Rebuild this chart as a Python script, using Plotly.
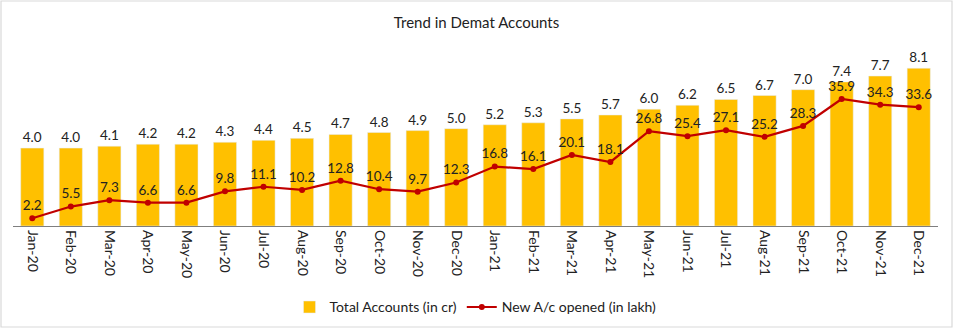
import plotly.graph_objects as go

months = ["Jan-20","Feb-20","Mar-20","Apr-20","May-20","Jun-20","Jul-20","Aug-20","Sep-20","Oct-20","Nov-20","Dec-20",
          "Jan-21","Feb-21","Mar-21","Apr-21","May-21","Jun-21","Jul-21","Aug-21","Sep-21","Oct-21","Nov-21","Dec-21"]
total_accounts = [4.0,4.0,4.1,4.2,4.2,4.3,4.4,4.5,4.7,4.8,4.9,5.0,
                  5.2,5.3,5.5,5.7,6.0,6.2,6.5,6.7,7.0,7.4,7.7,8.1]
new_accounts = [2.2,5.5,7.3,6.6,6.6,9.8,11.1,10.2,12.8,10.4,9.7,12.3,
                16.8,16.1,20.1,18.1,26.8,25.4,27.1,25.2,28.3,35.9,34.3,33.6]

FONT = "Lato, Calibri, Carlito, sans-serif"

fig = go.Figure()
fig.add_trace(go.Bar(
    x=months, y=total_accounts, name="Total Accounts (in cr)",
    marker=dict(color="#FFC000"), width=0.6,
    text=[f"{v:.1f}" for v in total_accounts], textposition="outside",
    textfont=dict(size=13.5, color="#222222", family=FONT), cliponaxis=False,
))
fig.add_trace(go.Scatter(
    x=months, y=new_accounts, name="New A/c opened (in lakh)", yaxis="y2",
    mode="lines+markers+text", line=dict(color="#C00000", width=2.2),
    marker=dict(color="#C00000", size=6),
    text=[f"{v:.1f}" for v in new_accounts], textposition="top center",
    textfont=dict(size=13.5, color="#222222", family=FONT), cliponaxis=False,
))

fig.update_layout(
    width=953, height=329,
    margin=dict(l=13, r=15, t=41, b=103, autoexpand=False),
    paper_bgcolor="white", plot_bgcolor="white",
    font=dict(family=FONT, size=14, color="#222222"),
    title=dict(text="Trend in Demat Accounts", x=0.5, xanchor="center", y=0.93, yanchor="middle",
               font=dict(size=15, color="#222222", family=FONT)),
    xaxis=dict(type="category", range=[-0.5, 23.5], tickangle=90, showline=True, linecolor="#7f7f7f",
               linewidth=1.3, ticks="", showgrid=False, tickfont=dict(size=14, color="#222222")),
    yaxis=dict(range=[0, 9.5], visible=False, showgrid=False),
    yaxis2=dict(range=[0, 52.3], overlaying="y", side="right", visible=False, showgrid=False),
    legend=dict(orientation="h", x=0.5, xanchor="center", y=-0.44, yanchor="middle",
                font=dict(size=14, color="#222222"), traceorder="normal"),
    bargap=0.4,
    showlegend=True,
)
fig.add_shape(type="rect", xref="paper", yref="paper",
              x0=-12/925, x1=1+14/925, y0=-101/185, y1=1+40/185,
              line=dict(color="#d9d9d9", width=1.2))

fig.write_html("out.html")
